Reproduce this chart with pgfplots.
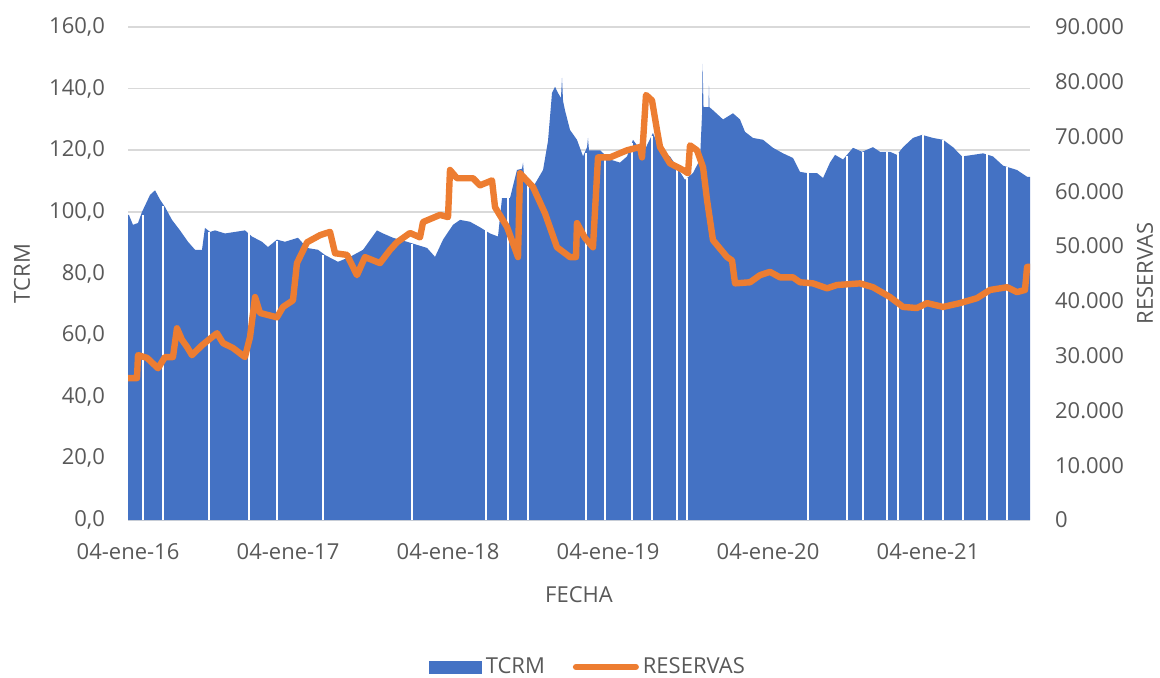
\documentclass[border=0pt]{standalone}
\usepackage{pgfplots}
\pgfplotsset{compat=1.18}
\usepackage{fontspec}
\setmainfont{Open Sans}
\definecolor{tblue}{HTML}{4472C4}
\definecolor{torange}{HTML}{ED7D31}
\definecolor{tgray}{HTML}{595959}
\definecolor{tgrid}{HTML}{D9D9D9}
\begin{document}
\begin{tikzpicture}
\useasboundingbox (0,0) rectangle (580pt,338.5pt);
\pgfplotsset{
  common/.style={
    at={(64pt,78.5pt)}, anchor=south west,
    scale only axis, width=451pt, height=246.5pt,
    xmin=0, xmax=5.6375,
    major tick length=0pt,
    scaled y ticks=false, scaled x ticks=false,
    tick label style={font=\fontsize{11}{13}\selectfont, text=tgray},
    label style={font=\fontsize{11}{13}\selectfont, text=tgray},
  }
}
\begin{axis}[common,
  ymin=0, ymax=160,
  axis x line*=bottom, axis y line*=left,
  y axis line style={draw=none},
  x axis line style={tgrid, line width=0.8pt, -},
  ymajorgrids, grid style={tgrid, line width=0.8pt},
  ytick={0,20,...,160},
  yticklabels={{0,0},{20,0},{40,0},{60,0},{80,0},{100,0},{120,0},{140,0},{160,0}},
  yticklabel style={anchor=east, xshift=-8pt},
  xtick={0,1,2,3,4,5},
  xticklabels={04-ene-16,04-ene-17,04-ene-18,04-ene-19,04-ene-20,04-ene-21},
  xticklabel style={anchor=center, yshift=-16pt},
  xlabel={FECHA},
  xlabel style={at={(axis description cs:0.5,0)}, anchor=center, yshift=-37.5pt},
  ylabel={TCRM},
  ylabel style={at={([xshift=-53pt]axis description cs:0,0.5)}, anchor=center},
]
\addplot[fill=tblue, draw=none] coordinates {
(0,99)(0.006,99)(0.031,95.8)(0.0625,96.4)(0.0875,100)(0.106,102)(0.1375,105.5)(0.169,107)
(0.2,104)(0.231,101.6)(0.275,97.4)(0.325,94)(0.375,90.3)(0.419,87.7)(0.4625,87.7)(0.481,94.8)
(0.5125,93.5)(0.544,94)(0.606,93)(0.669,93.5)(0.731,94)(0.775,92)(0.8375,90.3)(0.875,88.6)
(0.931,91)(0.981,90.3)(1.0625,91.6)(1.119,88.3)(1.1875,87.7)(1.231,86)(1.3125,83.8)(1.3875,85.4)
(1.469,87.7)(1.556,94)(1.594,93)(1.656,91.6)(1.744,90.3)(1.806,89.3)(1.869,88.3)(1.919,85.4)
(1.969,91)(2.031,95.8)(2.075,97.4)(2.1375,96.8)(2.2,95)(2.2625,93)(2.3125,92)(2.3375,104.5)
(2.3875,104.5)(2.431,113.6)(2.4625,114)(2.469,116)(2.475,112)(2.5125,109)(2.531,108)
(2.594,113.6)(2.625,123)(2.65,138.6)(2.669,140.6)(2.6875,138.6)(2.706,137)(2.7125,143.5)
(2.719,136)(2.731,133)(2.7625,126.6)(2.806,123.4)(2.844,118)(2.869,121)(2.875,124)(2.881,120)
(2.906,120)(2.95,120)(3.0125,117)(3.075,116)(3.119,118)(3.156,123.4)(3.219,119)(3.281,125.6)
(3.325,120)(3.3875,118)(3.431,114.6)(3.481,110.4)(3.531,112.6)(3.575,117)(3.5875,131.5)
(3.591,148)(3.597,134)(3.606,134)(3.628,134)(3.631,141)(3.634,134)(3.656,133)(3.719,130)
(3.781,132)(3.825,130)(3.856,126)(3.906,124)(3.969,123.4)(4.031,120.8)(4.094,119)(4.156,117.5)
(4.2,113)(4.244,112.6)(4.306,112.6)(4.344,111)(4.3875,116)(4.419,118.5)(4.469,117)(4.531,120.8)
(4.5875,119.5)(4.656,121)(4.7,119.5)(4.7625,119.5)(4.806,118.5)(4.844,121)(4.906,124)
(4.9625,125)(5.031,124)(5.094,123.4)(5.156,121)(5.2125,118)(5.281,118.5)(5.344,119)(5.406,118)
(5.469,115)(5.556,113.6)(5.619,111.4)(5.6375,111.4)
} \closedcycle;
\addplot[white, line width=0.9pt, ycomb, mark=none] coordinates {
(0.094,99)(0.219,102)(0.506,93.5)(0.756,93)(0.931,90.5)(1.219,86)(1.775,89.5)(2.2375,94)
(2.375,104.5)(2.5,109.5)(2.862,119)(2.981,118)(3.15,122.5)(3.275,124.5)(3.431,114.6)(3.494,111)
(4.25,112.6)(4.494,118)(4.594,119.5)(4.744,119.5)(4.8125,119)(4.969,125)(5.094,123.4)
(5.219,118)(5.369,119)(5.494,114.6)
};
\end{axis}
\begin{axis}[common,
  ymin=0, ymax=90000,
  axis x line=none, axis y line*=right,
  y axis line style={draw=none},
  ytick={0,10000,...,90000},
  yticklabels={0,{10.000},{20.000},{30.000},{40.000},{50.000},{60.000},{70.000},{80.000},{90.000}},
  yticklabel style={anchor=west, xshift=9pt},
  ylabel={RESERVAS},
  ylabel style={at={([xshift=57.5pt]axis description cs:1,0.5)}, anchor=center},
  legend style={at={(0.511,-0.298)}, anchor=center, draw=none, fill=none,
    legend columns=2, font=\fontsize{11}{13}\selectfont, text=tgray,
    /tikz/every even column/.append style={column sep=12pt}},
  legend cell align=left,
]
\addlegendimage{legend image code/.code={\fill[tblue] (0pt,-3pt) rectangle (26pt,3pt);}}
\addlegendentry{TCRM}
\addplot[torange, line width=3.2pt, line join=round, line cap=round, mark=none,
  legend image code/.code={\draw[torange, line width=3pt, line cap=round] (0pt,0pt) -- (30pt,0pt);}]
coordinates {
(0,25900)(0.05625,25900)(0.0625,30100)(0.119,29600)(0.1875,27700)(0.231,29750)(0.281,29750)
(0.306,35000)(0.3375,32900)(0.369,31600)(0.4,30100)(0.4625,31900)(0.5,32800)(0.556,34100)
(0.594,32300)(0.656,31400)(0.731,29750)(0.7625,33400)(0.794,40700)(0.825,37800)(0.931,37000)
(0.969,38900)(1.031,40100)(1.056,46900)(1.119,50700)(1.2,52000)(1.2625,52600)(1.294,48700)
(1.369,48400)(1.431,44700)(1.481,48000)(1.575,46900)(1.6375,49300)(1.681,50700)(1.7625,52400)
(1.825,51600)(1.844,54400)(1.95,55700)(2.0,55300)(2.0125,63900)(2.056,62400)(2.156,62400)
(2.2,61100)(2.275,62000)(2.294,57100)(2.369,53500)(2.4375,48000)(2.45,63300)(2.531,60800)
(2.606,56000)(2.681,49800)(2.7625,48000)(2.8,48000)(2.806,54200)(2.856,51500)(2.906,49800)
(2.9375,66200)(3.0125,66200)(3.119,67500)(3.2,68100)(3.2125,66200)(3.2375,77600)(3.275,76600)
(3.306,71200)(3.325,68100)(3.3875,65100)(3.469,63900)(3.5,63300)(3.5125,68400)(3.556,67500)
(3.594,64400)(3.619,58400)(3.656,51100)(3.744,48000)(3.775,47400)(3.794,43200)(3.8875,43400)
(3.95,44700)(4.0125,45300)(4.075,44300)(4.156,44300)(4.2,43400)(4.281,43200)(4.369,42300)
(4.431,42900)(4.575,43200)(4.656,42500)(4.7625,40700)(4.844,38900)(4.931,38700)(4.994,39600)
(5.094,38900)(5.2,39600)(5.306,40500)(5.3875,42000)(5.494,42500)(5.556,41600)(5.606,42000)
(5.619,46200)(5.6375,46200)
};
\addlegendentry{RESERVAS}
\end{axis}
\end{tikzpicture}
\end{document}
